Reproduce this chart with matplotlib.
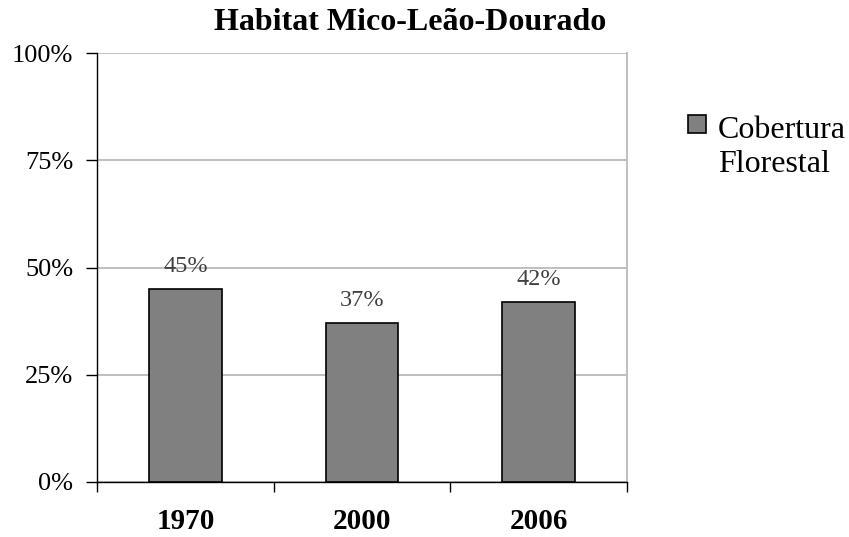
import matplotlib
matplotlib.use('Agg')
import matplotlib.pyplot as plt
from matplotlib.patches import Rectangle
from matplotlib.ticker import FixedLocator, NullFormatter

# data
years = ['1970', '2000', '2006']
cobertura = [45, 37, 42]
y_ticks = [0, 25, 50, 75, 100]
serie = ['Cobertura', 'Florestal']

plt.rcParams['font.family'] = ['Liberation Serif', 'DejaVu Serif']

W, H = 849, 537
fig = plt.figure(figsize=(W / 100, H / 100), dpi=100)
# plot area in pixels: x 97..627, y 53..482
ax = fig.add_axes([97 / W, 1 - 482 / H, (627 - 97) / W, (482 - 53) / H])

x = list(range(len(years)))
ax.bar(x, cobertura, width=0.41, color='#808080', edgecolor='black',
       linewidth=1.2, zorder=3)

for xi, v in zip(x, cobertura):
    ax.text(xi, v + 4, '%d%%' % v, ha='center', va='baseline',
            fontsize=17.5, color='#404040', zorder=4)

ax.set_xlim(-0.5, 2.5)
ax.set_ylim(0, 100)
ax.set_yticks(y_ticks)
ax.set_yticklabels(['%d%%' % t for t in y_ticks], fontsize=19)
ax.yaxis.grid(True, color='#bfbfbf', linewidth=1.4, zorder=0)

# category ticks between bars, labels centered under bars
ax.xaxis.set_major_locator(FixedLocator([-0.5, 0.5, 1.5, 2.5]))
ax.xaxis.set_major_formatter(NullFormatter())
ax.xaxis.set_minor_locator(FixedLocator(x))
ax.set_xticklabels(years, minor=True, fontsize=21, fontweight='bold')
ax.tick_params(axis='x', which='minor', length=0, pad=19)
ax.tick_params(axis='x', which='major', length=7, width=1, direction='out')
ax.tick_params(axis='y', length=8, width=1, direction='out', pad=9)

for s in ['left', 'bottom']:
    ax.spines[s].set_color('black')
    ax.spines[s].set_linewidth(1)
ax.spines['top'].set_visible(False)
ax.spines['right'].set_color('#bfbfbf')
ax.spines['right'].set_linewidth(1.4)

fig.text(410 / W, 1 - 30 / H, 'Habitat Mico-Leão-Dourado', ha='center',
         va='baseline', fontsize=23, fontweight='bold')

# legend
fig.add_artist(Rectangle((688 / W, 1 - 133 / H), 18 / W, 18 / H,
                         transform=fig.transFigure, facecolor='#808080',
                         edgecolor='black', linewidth=1.2))
fig.text(718 / W, 1 - 138 / H, serie[0], ha='left', va='baseline', fontsize=23)
fig.text(718 / W, 1 - 172 / H, serie[1], ha='left', va='baseline', fontsize=23)

fig.savefig('out.png', dpi=100)
